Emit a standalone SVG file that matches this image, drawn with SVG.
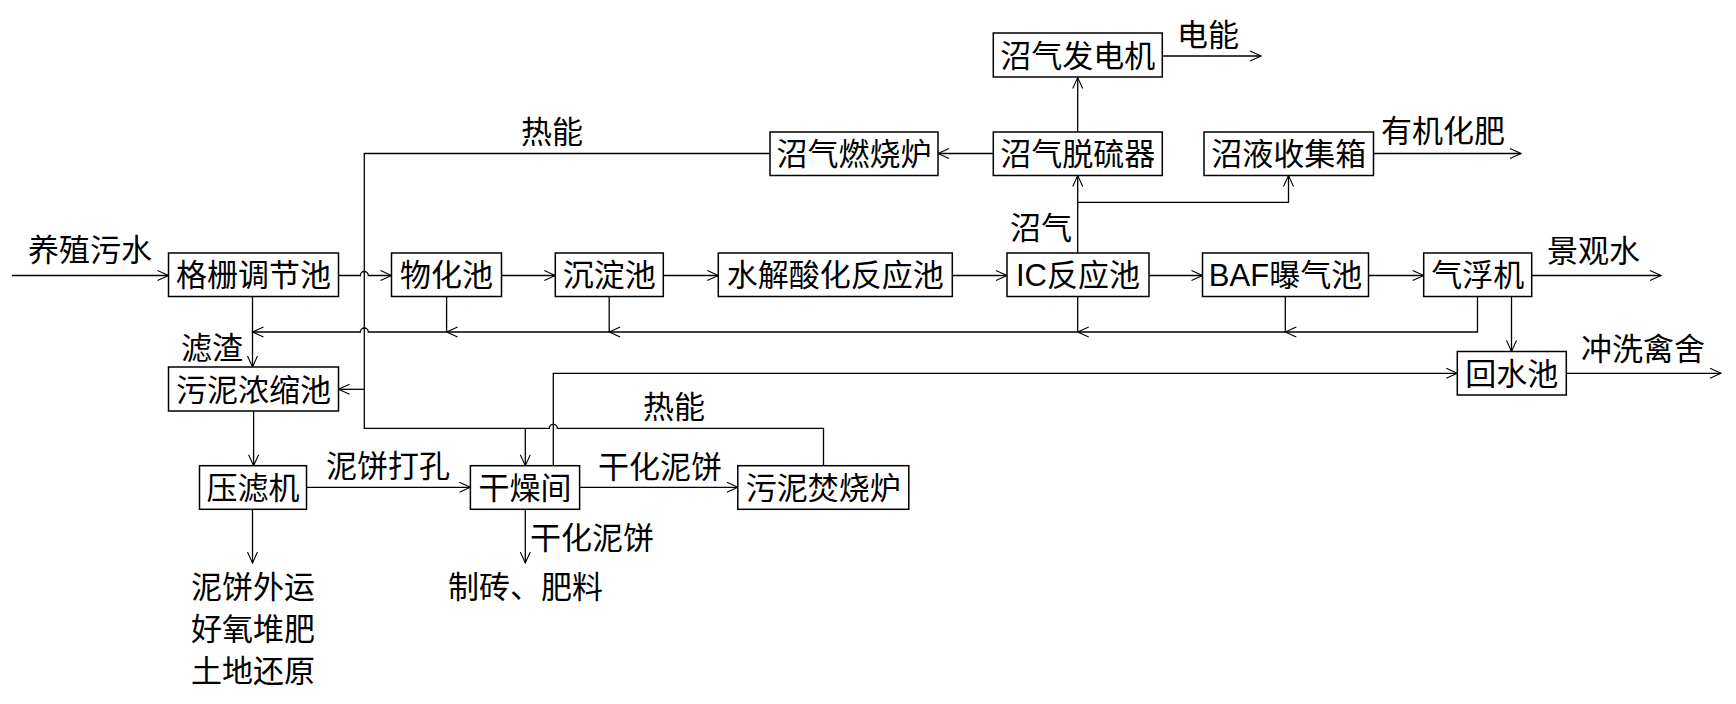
<svg xmlns="http://www.w3.org/2000/svg" width="1736" height="704" viewBox="0 0 1736 704">
<style>
.box{fill:#fff;stroke:#000;stroke-width:1.5}
.t{font-family:"Liberation Sans","Noto Sans CJK SC",sans-serif;font-size:31px;fill:#000}
.c{text-anchor:middle}
.ln{fill:none;stroke:#000;stroke-width:1.3}
.ar{marker-end:url(#arr)}
</style>
<defs>
<marker id="arr" markerUnits="userSpaceOnUse" markerWidth="14" markerHeight="14" refX="11" refY="5" orient="auto" overflow="visible">
<path d="M0,0 L11,5 L0,10" fill="none" stroke="#000" stroke-width="1.1"/>
</marker>
</defs>
<rect width="1736" height="704" fill="#fff"/>
<g id="connectors">
<path class="ln ar" d="M12,275.5 H168.5"/>
<path class="ln ar" d="M338.5,275.5 H360.3 A4,4 0 0 1 368.3,275.5 H391.5"/>
<path class="ln ar" d="M501.5,275.5 H555.3"/>
<path class="ln ar" d="M663.3,275.5 H718.3"/>
<path class="ln ar" d="M952.3,275.5 H1007"/>
<path class="ln ar" d="M1149,275.5 H1202.5"/>
<path class="ln ar" d="M1368.5,275.5 H1423.7"/>
<path class="ln ar" d="M1531.7,275.5 H1661"/>
<path class="ln ar" d="M1477.5,296.5 V332 H1285.3"/>
<path class="ln ar" d="M1285.3,296.5 V332 H1077.7"/>
<path class="ln ar" d="M1077.7,296.5 V332 H609.2"/>
<path class="ln ar" d="M609.2,296.5 V332 H446.6"/>
<path class="ln ar" d="M446.6,296.5 V332 H368.3 A4,4 0 0 0 360.3,332 H252.5"/>
<path class="ln ar" d="M252.5,296.5 V367"/>
<path class="ln ar" d="M1511.5,296.5 V351.5"/>
<path class="ln ar" d="M1566.5,373.3 H1721"/>
<path class="ln ar" d="M1077.7,253 V175.5"/>
<path class="ln ar" d="M1077.7,202.3 H1288.5 V175.5"/>
<path class="ln ar" d="M1077.7,132 V77.5"/>
<path class="ln ar" d="M1162.5,56 H1261"/>
<path class="ln ar" d="M993.3,153.5 H938"/>
<path class="ln ar" d="M1373.5,153.5 H1521"/>
<path class="ln" d="M770,153.5 H364.3 V428.3 H549.3 A4,4 0 0 1 557.3,428.3 H823.5 V465.7"/>
<path class="ln ar" d="M364.3,389.3 H338.5"/>
<path class="ln ar" d="M525.3,428.3 V465.7"/>
<path class="ln ar" d="M553.3,465.7 V373.3 H1457.3"/>
<path class="ln ar" d="M253.6,411 V465.7"/>
<path class="ln ar" d="M306.6,487.3 H470.4"/>
<path class="ln ar" d="M579.6,487.3 H737.8"/>
<path class="ln ar" d="M252.5,509.5 V563"/>
<path class="ln ar" d="M525.3,509.5 V563"/>
</g>
<g id="labels">
<text class="t" x="28" y="261">养殖污水</text>
<text class="t" x="181" y="359">滤渣</text>
<text class="t" x="1547" y="262">景观水</text>
<text class="t" x="1581" y="360">冲洗禽舍</text>
<text class="t" x="1010" y="239">沼气</text>
<text class="t" x="1177" y="46">电能</text>
<text class="t" x="1381" y="142">有机化肥</text>
<text class="t" x="521" y="143">热能</text>
<text class="t" x="643" y="418">热能</text>
<text class="t" x="326" y="477">泥饼打孔</text>
<text class="t" x="598" y="478">干化泥饼</text>
<text class="t" x="530" y="549">干化泥饼</text>
<text class="t" x="191" y="598">泥饼外运</text>
<text class="t" x="191" y="640">好氧堆肥</text>
<text class="t" x="191" y="682">土地还原</text>
<text class="t" x="448" y="598">制砖、肥料</text>
</g>
<g id="n_geshan"><rect class="box" x="168.5" y="253" width="170" height="43.5"/><text class="t c" x="253.5" y="286">格栅调节池</text></g>
<g id="n_wuhua"><rect class="box" x="391.5" y="253" width="110" height="43.5"/><text class="t c" x="446.5" y="286">物化池</text></g>
<g id="n_chendian"><rect class="box" x="555.3" y="253" width="108" height="43.5"/><text class="t c" x="609.3" y="286">沉淀池</text></g>
<g id="n_shuijie"><rect class="box" x="718.3" y="253" width="234" height="43.5"/><text class="t c" x="835.3" y="286">水解酸化反应池</text></g>
<g id="n_ic"><rect class="box" x="1007" y="253" width="142" height="43.5"/><text class="t c" x="1078" y="286">IC反应池</text></g>
<g id="n_baf"><rect class="box" x="1202.5" y="253" width="166" height="43.5"/><text class="t c" x="1285.5" y="286">BAF曝气池</text></g>
<g id="n_qifu"><rect class="box" x="1423.7" y="253" width="108" height="43.5"/><text class="t c" x="1477.7" y="286">气浮机</text></g>
<g id="n_huishui"><rect class="box" x="1457.3" y="351.5" width="109" height="43.5"/><text class="t c" x="1511.8" y="385">回水池</text></g>
<g id="n_fadian"><rect class="box" x="993.3" y="33" width="169" height="44"/><text class="t c" x="1077.8" y="66.5">沼气发电机</text></g>
<g id="n_ranshao"><rect class="box" x="770" y="132" width="168" height="43.5"/><text class="t c" x="854" y="165">沼气燃烧炉</text></g>
<g id="n_tuoliu"><rect class="box" x="993.3" y="132" width="169" height="43.5"/><text class="t c" x="1077.8" y="165">沼气脱硫器</text></g>
<g id="n_zhaoye"><rect class="box" x="1204" y="132" width="169.5" height="43.5"/><text class="t c" x="1288.8" y="165">沼液收集箱</text></g>
<g id="n_nongsuo"><rect class="box" x="168.5" y="367" width="170" height="44"/><text class="t c" x="253.5" y="400.5">污泥浓缩池</text></g>
<g id="n_yalv"><rect class="box" x="199.5" y="465.7" width="107" height="43.6"/><text class="t c" x="253" y="499">压滤机</text></g>
<g id="n_ganzao"><rect class="box" x="470.4" y="465.7" width="109.2" height="43.6"/><text class="t c" x="525" y="499">干燥间</text></g>
<g id="n_fenshao"><rect class="box" x="737.8" y="465.7" width="171" height="43.6"/><text class="t c" x="823.3" y="499">污泥焚烧炉</text></g>
</svg>
